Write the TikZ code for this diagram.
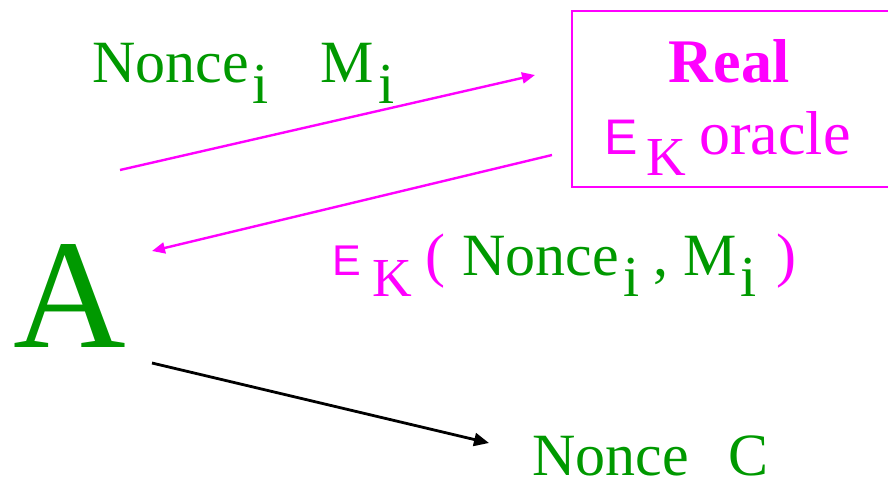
\documentclass[tikz,border=0pt]{standalone}
\usepackage{fontspec}
\setmainfont{Liberation Serif}
\newfontfamily\keyfont{Liberation Sans}
\usetikzlibrary{arrows.meta}
\definecolor{advgreen}{RGB}{0,153,0}
\definecolor{oramag}{RGB}{255,0,255}
% lowered index, same look as the slide
\newcommand{\lowi}[1]{\hspace{4pt}\raisebox{-21pt}{\fontsize{58}{60}\selectfont #1}}
% E_K in magenta: #1 size of the E, #2 gap before the K
\newcommand{\encK}[2]{\textcolor{oramag}{{\keyfont\fontsize{#1}{#1}\selectfont E}\hspace{#2}\raisebox{-21pt}{\fontsize{55}{60}\selectfont K}}}

\begin{document}
\begin{tikzpicture}[x=1pt,y=-1pt,line width=2.4pt,>={Triangle[length=13pt,width=11pt]},
  msg/.style={text=advgreen,inner sep=0pt,anchor=base west,font=\fontsize{60}{72}\selectfont}]
\useasboundingbox (0,0) rectangle (888,488);
% ---------- oracle ----------
\node[draw=oramag,line width=2.5pt,minimum width=320pt,minimum height=176pt,inner sep=0pt] (oracle) at (732,99) {};
\node[msg,text=oramag,anchor=base,font=\fontsize{62}{72}\selectfont\bfseries] (real) at (729,82) {Real};
\node[msg,text=oramag,font=\fontsize{62}{72}\selectfont] (ektxt) at (603,154) {\encK{50pt}{9pt}\hspace{13pt}oracle};
% ---------- adversary ----------
\node[msg,font=\fontsize{156}{156}\selectfont] (adv) at (12,347) {A};
\node[msg] (query) at (91,82) {Nonce\lowi{i}\hspace{52pt}M\lowi{i}};
\node[msg] (reply) at (331,275) {\encK{43pt}{12pt}\hspace{13pt}\textcolor{oramag}{(}\hspace{17pt}Nonce\lowi{i}\hspace{14pt},\hspace{15pt}M\lowi{i}\hspace{20pt}\textcolor{oramag}{)}};
\node[msg,text depth=0pt] (out) at (531,475) {Nonce\hspace{40pt}C};
% ---------- arrows ----------
\coordinate (q-from) at (120,170);
\coordinate (q-to) at (535,75);
\coordinate (r-from) at (552,155);
\coordinate (r-to) at (152,251);
\coordinate (c-from) at (152,363);
\coordinate (c-to) at (489,443);
\draw[->,oramag] (q-from) -- (q-to);
\draw[->,oramag] (r-from) -- (r-to);
\draw[->,line width=2.8pt,>={Triangle[length=15pt,width=13pt]}] (c-from) -- (c-to);
\end{tikzpicture}
\end{document}
